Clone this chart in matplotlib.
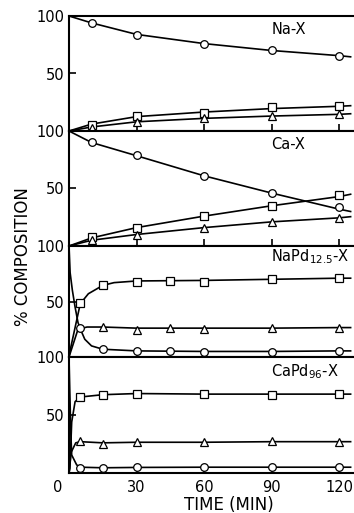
import matplotlib
matplotlib.use('Agg')
import matplotlib.pyplot as plt
import matplotlib.transforms as mtransforms

plt.rcParams['font.family'] = ['DejaVu Sans']

# --- Na-X ---
na_t = [10, 30, 60, 90, 120]
na_o = [94, 83.5, 76, 70, 65]
na_sq = [5, 13, 16, 20.5, 22]
na_tri = [2.5, 7.5, 11, 13, 14.5]
na_line_t = [0, 10, 30, 60, 90, 120, 125]
na_o_line = [100, 94, 84, 76, 70, 65.5, 64.5]
na_sq_line = [0, 6, 12.5, 16.5, 19.5, 21.5, 22]
na_tri_line = [0, 3.5, 8, 11, 13, 14.5, 15]

# --- Ca-X ---
ca_t = [10, 30, 60, 90, 120]
ca_o = [90, 79, 61, 46.5, 34]
ca_sq = [8, 16, 26, 35, 44]
ca_tri = [5.5, 10, 16, 21, 24.5]
ca_line_t = [0, 10, 30, 60, 90, 120, 125]
ca_o_line = [100, 90, 78.5, 61, 46, 32, 30]
ca_sq_line = [0, 7, 16, 26, 35, 43, 45]
ca_tri_line = [0, 5, 10, 16, 21, 24.5, 25.5]

# --- NaPd12.5-X ---
nap_t = [5, 15, 30, 45, 60, 90, 120]
nap_o = [26, 7, 5, 5.5, 4.5, 4.5, 5.5]
nap_sq = [49, 65, 68, 68.5, 68, 70, 71]
nap_tri_t = [15, 30, 45, 60, 90, 120]
nap_tri = [27, 24.5, 26, 25.5, 26, 26.5]
nap_o_line_t = [0, 0.5, 1.5, 2.7, 4, 5.5, 7, 10, 15, 30, 60, 90, 120, 125]
nap_o_line = [100, 76, 60, 45, 31, 23, 16, 10, 7, 5.5, 5, 5, 5.5, 5.5]
nap_sq_line_t = [0, 0.5, 5, 8.6, 15, 20, 30, 60, 90, 120, 125]
nap_sq_line = [0, 6, 48, 57, 64.5, 67, 68.5, 69, 70, 71, 71]
nap_tri_line_t = [0, 4, 8, 15, 30, 60, 90, 120, 125]
nap_tri_line = [0, 25, 27, 27, 26, 26, 26, 26.5, 26.5]

# --- CaPd96-X ---
cap_t = [5, 15, 30, 60, 90, 120]
cap_o = [4.5, 4, 5, 5, 5, 5]
cap_sq = [65.5, 67, 68.5, 68, 67, 68]
cap_tri = [27.5, 25, 26.5, 26.5, 27.5, 27]
cap_o_line_t = [0, 0.3, 0.8, 1.2, 3.4, 5, 15, 30, 60, 90, 120, 125]
cap_o_line = [100, 75, 35, 15.5, 7, 5, 4.5, 4.8, 5, 5, 5, 5]
cap_sq_line_t = [0, 0.4, 1.2, 2.7, 5, 15, 30, 60, 90, 120, 125]
cap_sq_line = [0, 4, 44, 61.5, 65.5, 67.5, 68.5, 68, 68, 68, 68]
cap_tri_line_t = [0, 1, 3, 5, 15, 30, 60, 90, 120, 125]
cap_tri_line = [0, 18, 26, 27, 26, 26.5, 26.5, 27, 27, 27]

labels = ['Na-X', 'Ca-X', r'NaPd$_{12.5}$-X', r'CaPd$_{96}$-X']
label_y = [88, 88, 90, 87]

# each panel: list of (marker, mark_t, mark_y, line_t, line_y)
panels = [
    [('o', na_t, na_o, na_line_t, na_o_line),
     ('s', na_t, na_sq, na_line_t, na_sq_line),
     ('^', na_t, na_tri, na_line_t, na_tri_line)],
    [('o', ca_t, ca_o, ca_line_t, ca_o_line),
     ('s', ca_t, ca_sq, ca_line_t, ca_sq_line),
     ('^', ca_t, ca_tri, ca_line_t, ca_tri_line)],
    [('o', nap_t, nap_o, nap_o_line_t, nap_o_line),
     ('s', nap_t, nap_sq, nap_sq_line_t, nap_sq_line),
     ('^', nap_tri_t, nap_tri, nap_tri_line_t, nap_tri_line)],
    [('o', cap_t, cap_o, cap_o_line_t, cap_o_line),
     ('s', cap_t, cap_sq, cap_sq_line_t, cap_sq_line),
     ('^', cap_t, cap_tri, cap_tri_line_t, cap_tri_line)],
]

W, H = 354, 513
fig = plt.figure(figsize=(W / 100, H / 100), dpi=100)
left, right = 69, 354
tops = [16, 131, 246, 357]
bots = [131, 246, 357, 473]

for i, series in enumerate(panels):
    ax = fig.add_axes([left / W, 1 - bots[i] / H, (right - left) / W,
                       (bots[i] - tops[i]) / H])
    for mk, mt, my, lt, ly in series:
        ax.plot(lt, ly, color='black', lw=1.2, zorder=2)
        ax.plot(mt, my, ls='none', marker=mk, ms=5.5, mfc='white',
                mec='black', mew=0.9, zorder=3)
    ax.set_xlim(0, 126.5)
    ax.set_ylim(0, 100)
    ax.spines['right'].set_visible(False)
    for s in ['left', 'bottom', 'top']:
        ax.spines[s].set_linewidth(1.5)
    ax.set_yticks([50, 100])
    ax.set_yticklabels(['50', '100'])
    ax.tick_params(axis='y', direction='in', length=5, width=1.2,
                   labelsize=10.5, pad=3)
    ax.tick_params(axis='x', direction='in', length=5, width=1.2,
                   labelsize=10.5, pad=5)
    ax.text(89.8, label_y[i], labels[i], ha='left', va='center', fontsize=10.5)
    if i < 3:
        ax.set_xticks([30, 60, 90, 120])
        ax.set_xticklabels([])
    else:
        ax.set_xticks([0, 30, 60, 90, 120])
        ax.set_xticklabels(['0', '30', '60', '90', '120'])
        lab0 = ax.get_xticklabels()[0]
        lab0.set_transform(lab0.get_transform() +
                           mtransforms.ScaledTranslation(-0.11, 0, fig.dpi_scale_trans))

fig.text(23 / W, 1 - 257 / H, '% COMPOSITION', rotation=90, ha='center',
         va='center', fontsize=12)
fig.text(229 / W, 1 - 505 / H, 'TIME (MIN)', ha='center', va='center',
         fontsize=12)

fig.savefig('out.png', dpi=100)
